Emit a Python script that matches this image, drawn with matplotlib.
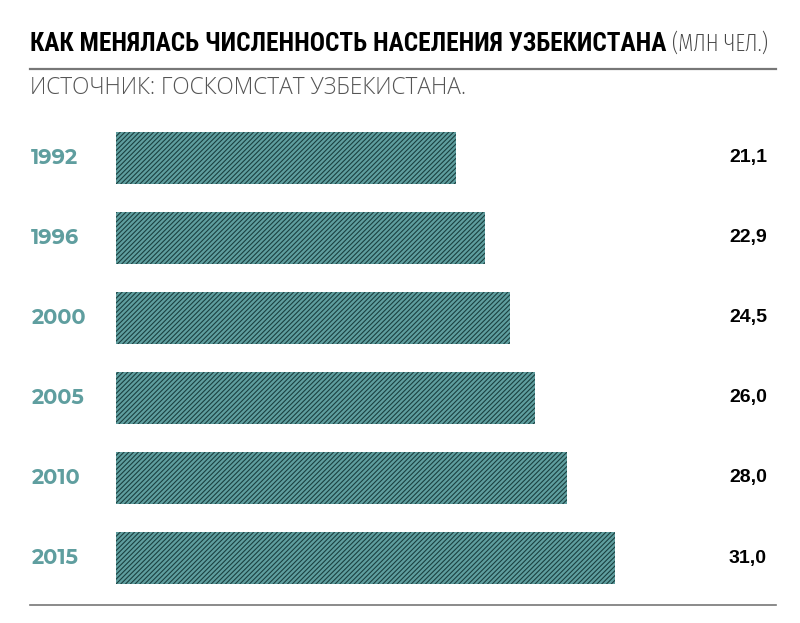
import numpy as np
import matplotlib
matplotlib.use("Agg")
import matplotlib.pyplot as plt
import matplotlib.transforms as mtransforms
from matplotlib.lines import Line2D

# Численность населения Узбекистана, млн чел.
years = ["1992", "1996", "2000", "2005", "2010", "2015"]
population = [21.1, 22.9, 24.5, 26.0, 28.0, 31.0]
value_labels = ["21,1", "22,9", "24,5", "26,0", "28,0", "31,0"]

teal = "#5f9e9f"
hatch_dark = "#1a4040"

plt.rcParams["hatch.linewidth"] = 0.8

W, H = 800, 623
fig = plt.figure(figsize=(W / 100, H / 100), dpi=100)


def fit_width(t, target):
    # подгоняем размер шрифта под ширину в пикселях
    fig.canvas.draw()
    w = t.get_window_extent().width
    t.set_fontsize(t.get_fontsize() * target / w)
    fig.canvas.draw()
    return t.get_window_extent()


# оси: x=0 на 116 px, 16.1 px на единицу; центры полос 158..558 px
ax = fig.add_axes([116 / W, 1 - 598 / H, 40 * 16.1 / W, 480 / H])
ypos = np.arange(len(years))
ax.barh(ypos, population, height=0.64, color=teal, edgecolor=hatch_dark,
        hatch="///////", linewidth=0)
ax.set_xlim(0, 40)
ax.set_ylim(len(years) - 0.5, -0.5)
ax.axis("off")

trans = mtransforms.blended_transform_factory(fig.transFigure, ax.transData)
for i, (yr, lab) in enumerate(zip(years, value_labels)):
    ax.text(31 / W, i, yr, transform=trans, ha="left", va="center",
            fontsize=15, fontweight=700, color=teal,
            family=["Montserrat Alternates", "Open Sans", "DejaVu Sans"])
    ax.text(767 / W, i, lab, transform=trans, ha="right", va="center",
            fontsize=14, fontweight="bold", color="black",
            family=["Liberation Sans", "DejaVu Sans"])

# заголовок
title = fig.text(30 / W, 1 - 44 / H, "КАК МЕНЯЛАСЬ ЧИСЛЕННОСТЬ НАСЕЛЕНИЯ УЗБЕКИСТАНА",
                 ha="left", va="center", fontsize=17, fontweight="bold",
                 family=["Roboto Condensed", "DejaVu Sans"], color="black")
bb = fit_width(title, 638)
unit = fig.text(672 / W, 1 - 44 / H, "(МЛН ЧЕЛ.)", ha="left", va="center",
                fontsize=17, fontweight=275,
                family=["Fira Sans Extra Condensed", "Roboto Condensed", "DejaVu Sans"],
                color="#444444")
fit_width(unit, 96)

fig.add_artist(Line2D([30 / W, 776 / W], [1 - 69 / H, 1 - 69 / H],
                      color="#777777", linewidth=1.6))
sub = fig.text(30 / W, 1 - 88 / H, "ИСТОЧНИК: ГОСКОМСТАТ УЗБЕКИСТАНА.", ha="left",
               va="center", fontsize=13, fontweight=300,
               family=["Open Sans", "DejaVu Sans"], color="#555555")
fit_width(sub, 435)
fig.add_artist(Line2D([30 / W, 776 / W], [1 - 605 / H, 1 - 605 / H],
                      color="#777777", linewidth=1.2))

fig.savefig("out.png", dpi=100)
